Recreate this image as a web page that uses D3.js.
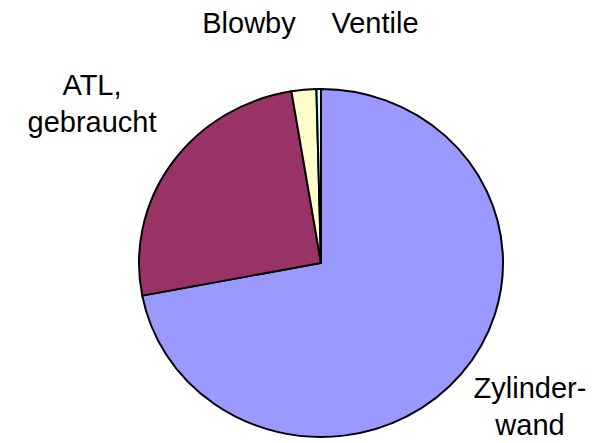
<!DOCTYPE html>
<html>
<head>
<meta charset="utf-8">
<script src="https://cdn.jsdelivr.net/npm/d3@7"></script>
<style>
  body { margin: 0; background: #fff; }
  text { font-family: "Liberation Sans", Arial, sans-serif; fill: #000; }
</style>
</head>
<body>
<div id="chart"></div>
<script>
// Anteile in Prozent (im Uhrzeigersinn ab 12 Uhr)
const categories = ['Zylinderwand', 'ATL, gebraucht', 'Blowby', 'Ventile'];
const values = [72.0, 25.4, 2.2, 0.4];
const colors = ['#9999ff', '#993366', '#ffffcc', '#ccffff'];

// Beschriftungen (mehrzeilig)
const labels = [
  { lines: ['Zylinder-', 'wand'], x: 530, y: 398 },
  { lines: ['ATL,', 'gebraucht'], x: 92, y: 95 },
  { lines: ['Blowby'], x: 249, y: 33 },
  { lines: ['Ventile'], x: 375, y: 33 }
];

const width = 595;
const height = 443;
const cx = 321, cy = 263;
const rx = 182, ry = 174;

const svg = d3.select('#chart')
  .append('svg')
  .attr('width', width)
  .attr('height', height);

const pie = d3.pie().sort(null).value(d => d);
const arc = d3.arc().innerRadius(0).outerRadius(rx);

// Kreis leicht gestaucht -> Ellipse wie im Original
const g = svg.append('g')
  .attr('transform', `translate(${cx},${cy}) scale(1,${ry / rx})`);

g.selectAll('path')
  .data(pie(values))
  .enter()
  .append('path')
  .attr('d', arc)
  .attr('fill', (d, i) => colors[i])
  .attr('stroke', '#000')
  .attr('stroke-width', 2)
  .attr('stroke-linejoin', 'miter');

labels.forEach(l => {
  const t = svg.append('text')
    .attr('text-anchor', 'middle')
    .attr('font-size', '29px');
  l.lines.forEach((line, j) => {
    t.append('tspan')
      .attr('x', l.x)
      .attr('y', l.y + j * 37)
      .text(line);
  });
});
</script>
</body>
</html>
